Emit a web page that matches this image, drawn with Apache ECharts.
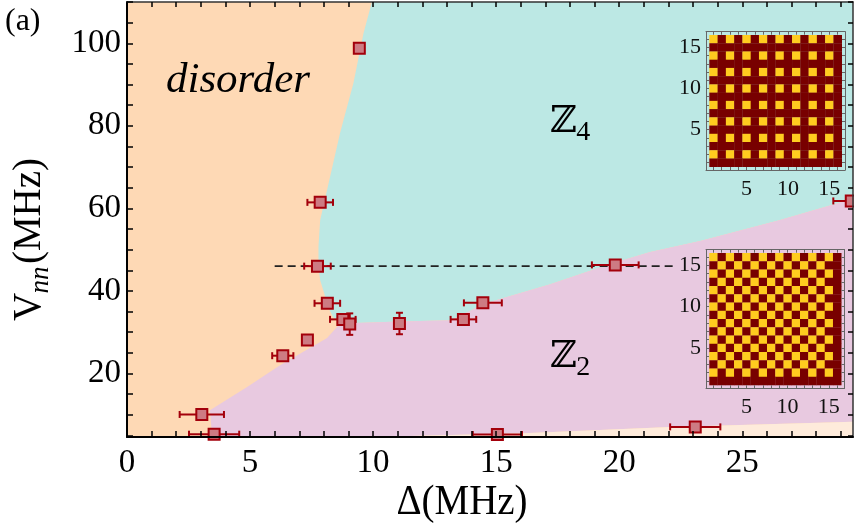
<!DOCTYPE html>
<html><head><meta charset="utf-8">
<script src="https://cdn.jsdelivr.net/npm/echarts@6.0.0/dist/echarts.min.js"></script>
<style>html,body{margin:0;padding:0;background:#fff}#c{width:854px;height:525px}</style>
</head><body><div id="c"></div>
<script>
// ---------- data ----------
const deltaMHz = [9.44, 7.85, 7.74, 8.14, 8.77, 9.05, 7.33, 6.33, 3.04, 3.54, 11.07, 13.67, 14.46, 19.84, 15.05, 23.09, 29.43];
const vnnMHz   = [98.8, 61.45, 46.0, 37.0, 33.1, 31.95, 28.1, 24.3, 10.06, 5.28, 32.1, 33.1, 37.1, 46.3, 5.2, 7.05, 61.8];
const deltaErr = [0, 0.52, 0.54, 0.52, 0.52, 0, 0, 0.43, 0.9, 1.02, 0, 0.52, 0.77, 0.95, 1.0, 1.02, 0.73];
const vnnErr   = [0, 0, 0, 0, 0, 2.6, 0, 0, 0, 0, 2.6, 0, 0, 0, 0, 0, 0];
const cutLine  = [[6.0, 46], [22.2, 46]];

// phase boundaries [Delta, Vnn]
const boundaryDisZ4 = [[9.95,110],[9.61,102.4],[9.20,90.3],[8.66,78.3],[8.25,67.6],[7.85,57.2],[7.78,50.7],[7.78,45.8],[7.85,42.6],[8.01,39.5],[8.17,36.1],[8.37,33.7],[8.66,32.1]];
const boundaryZ4Z2  = [[8.66,32.1],[11.1,32.6],[13.13,32.9],[13.94,35.1],[14.47,36.8],[17.2,41.6],[19.63,46.5],[21.26,49.4],[23.29,52.1],[26.54,57.2],[29.5,62.3]];
const boundaryDisZ2 = [[8.66,32.1],[8.13,28.6],[6.22,22.0],[4.88,16.7],[3.37,11.1],[3.46,4.6]];
const boundaryZ2Low = [[3.46,4.6],[11.1,4.8],[16.1,5.5],[22.07,7.0],[29.5,8.3]];
const plotCorners   = [[0,4.6],[29.5,4.6],[29.5,110],[0,110]];

// tick labels
const xTickLabels = [0, 5, 10, 15, 20, 25];
const yTickLabels = [20, 40, 60, 80, 100];
const insetTickLabels = [5, 10, 15];

// inset patterns (rows top y=16 -> bottom y=1, columns x=1..16; 1 = yellow)
const z4Rows = [
 "1010101010101010","0000000000000000","1010101010101010","0000000000000000",
 "1010101010101010","0000000000000000","1010101010101010","0000000000000000",
 "1010101010101010","0000000000000000","1010101010101010","0000000000000000",
 "1010101010101010","0000000000000000","1010101010101010","0000000000000000"];
const z2Rows = [
 "1010101010101010","0101010101010100","1010101010101010","0101010101010100",
 "1010101010101010","0101010101010100","1010101010101010","0101010101010100",
 "1010101010101010","0101010101010100","1010101010101010","0101010101010100",
 "1010101010101010","0101010101010100","1010101010101010","0000000000000000"];

// ---------- helpers ----------
const xMinorTicks = []; for (let v = 0; v <= 29; v++) xMinorTicks.push(v);
const yMinorTicks = []; for (let v = 5; v <= 110; v += 5) yMinorTicks.push(v);
const insetTicks = []; for (let v = 1; v <= 16; v++) insetTicks.push(v);

const SERIF = '"Liberation Serif", "Times New Roman", serif';
const C_DIS = '#FED9B5', C_Z4 = '#BCE8E4', C_Z2 = '#E8C9E0', C_LOW = '#FEEBDB';
const RED = '#A3000B';

function rowsToCells(rows) {
  const out = [];
  rows.forEach((r, i) => { for (let c = 0; c < r.length; c++) out.push([c + 1, 16 - i, +r[c]]); });
  return out;
}

function polygonSeries(points, color, z) {
  return {
    type: 'custom', xAxisIndex: 0, yAxisIndex: 0, z: z, silent: true, clip: true,
    data: [[points[0][0], points[0][1]]],
    renderItem: (p, api) => ({ type: 'polygon', shape: { points: points.map(pt => api.coord(pt)) }, style: { fill: color } })
  };
}

const z4Poly = boundaryDisZ4.concat(boundaryZ4Z2.slice(1), [[29.5, 110]]);
const z2Poly = boundaryZ4Z2.concat(boundaryZ2Low.slice().reverse(), boundaryDisZ2.slice().reverse().slice(1, -1));
const lowPoly = boundaryZ2Low.concat([[29.5, 4.6]]);

function heatSeries(rows, gi) {
  return {
    type: 'custom', xAxisIndex: gi, yAxisIndex: gi, z: 5, silent: true,
    encode: { x: 0, y: 1 },
    data: rowsToCells(rows),
    renderItem: (p, api) => {
      const x = api.value(0), y = api.value(1), v = api.value(2);
      const a = api.coord([x - 0.5, y + 0.5]), s = api.size([1, 1]);
      return { type: 'rect', shape: { x: a[0], y: a[1], width: s[0] + 0.3, height: s[1] + 0.3 },
               style: { fill: v ? '#FFCC1F' : '#780000' } };
    }
  };
}

function insetX(gi, pos) {
  return { gridIndex: gi, type: 'value', min: 0.1, max: 16.9, position: pos, z: 6,
    axisLine: { onZero: false, lineStyle: { color: '#666', width: 1 } },
    axisTick: { inside: true, length: 3, customValues: insetTicks, lineStyle: { color: '#666' } },
    axisLabel: { show: pos === 'bottom', customValues: insetTickLabels, fontSize: 22, fontFamily: SERIF, color: '#111', margin: 8 },
    splitLine: { show: false } };
}
function insetY(gi, pos) {
  return { gridIndex: gi, type: 'value', min: 0.1, max: 16.9, position: pos, z: 6,
    axisLine: { onZero: false, lineStyle: { color: '#666', width: 1 } },
    axisTick: { inside: true, length: 3, customValues: insetTicks, lineStyle: { color: '#666' } },
    axisLabel: { show: pos === 'left', customValues: insetTickLabels, fontSize: 22, fontFamily: SERIF, color: '#111', margin: 5 },
    splitLine: { show: false } };
}

const chart = echarts.init(document.getElementById('c'), null, { renderer: 'canvas' });
chart.setOption({
  animation: false,
  backgroundColor: '#fff',
  grid: [
    { left: 127, right: 1, top: 2, bottom: 88 },
    { left: 706, top: 31.7, width: 139, height: 138.3 },
    { left: 706, top: 249.7, width: 138.5, height: 138.6 }
  ],
  xAxis: [
    { gridIndex: 0, type: 'value', min: 0, max: 29.5, position: 'bottom', z: 10,
      axisLine: { onZero: false, lineStyle: { color: '#000', width: 2 } },
      axisTick: { inside: true, length: 6, customValues: xMinorTicks, lineStyle: { color: '#000', width: 1.5 } },
      axisLabel: { customValues: xTickLabels, fontSize: 33, fontFamily: SERIF, color: '#000', margin: 10 },
      splitLine: { show: false } },
    { gridIndex: 0, type: 'value', min: 0, max: 29.5, position: 'top', z: 10,
      axisLine: { onZero: false, lineStyle: { color: '#333', width: 1.5 } },
      axisTick: { inside: true, length: 5, customValues: xMinorTicks, lineStyle: { color: '#000', width: 1.5 } },
      axisLabel: { show: false }, splitLine: { show: false } },
    insetX(1, 'bottom'), insetX(1, 'top'), insetX(2, 'bottom'), insetX(2, 'top')
  ],
  yAxis: [
    { gridIndex: 0, type: 'value', min: 4.6, max: 110, position: 'left', z: 10,
      axisLine: { onZero: false, lineStyle: { color: '#000', width: 2 } },
      axisTick: { inside: true, length: 6, customValues: yMinorTicks, lineStyle: { color: '#000', width: 1.5 } },
      axisLabel: { customValues: yTickLabels, fontSize: 33, fontFamily: SERIF, color: '#000', margin: 6 },
      splitLine: { show: false } },
    { gridIndex: 0, type: 'value', min: 4.6, max: 110, position: 'right', z: 10,
      axisLine: { onZero: false, lineStyle: { color: '#333', width: 1.5 } },
      axisTick: { inside: true, length: 5, customValues: yMinorTicks, lineStyle: { color: '#000', width: 1.5 } },
      axisLabel: { show: false }, splitLine: { show: false } },
    insetY(1, 'left'), insetY(1, 'right'), insetY(2, 'left'), insetY(2, 'right')
  ],
  series: [
    polygonSeries(plotCorners, C_DIS, 1),
    polygonSeries(z4Poly, C_Z4, 1),
    polygonSeries(z2Poly, C_Z2, 1),
    polygonSeries(lowPoly, C_LOW, 1),
    { type: 'line', xAxisIndex: 0, yAxisIndex: 0, z: 2, silent: true, symbol: 'none',
      data: cutLine, lineStyle: { color: '#222', width: 1.6, type: [8, 5] } },
    { type: 'custom', xAxisIndex: 0, yAxisIndex: 0, z: 3, silent: true, clip: true,
      encode: { x: 0, y: 1 },
      data: deltaMHz.map((d, i) => [d, vnnMHz[i], deltaErr[i], vnnErr[i]]),
      renderItem: (p, api) => {
        const x = api.value(0), y = api.value(1), dx = api.value(2), dy = api.value(3);
        const st = { stroke: RED, lineWidth: 2 };
        const ch = [];
        if (dx > 0) {
          const a = api.coord([x - dx, y]), b = api.coord([x + dx, y]);
          ch.push({ type: 'line', shape: { x1: a[0], y1: a[1], x2: b[0], y2: b[1] }, style: st });
          ch.push({ type: 'line', shape: { x1: a[0], y1: a[1] - 3.5, x2: a[0], y2: a[1] + 3.5 }, style: st });
          ch.push({ type: 'line', shape: { x1: b[0], y1: b[1] - 3.5, x2: b[0], y2: b[1] + 3.5 }, style: st });
        }
        if (dy > 0) {
          const a = api.coord([x, y - dy]), b = api.coord([x, y + dy]);
          ch.push({ type: 'line', shape: { x1: a[0], y1: a[1], x2: b[0], y2: b[1] }, style: st });
          ch.push({ type: 'line', shape: { x1: a[0] - 3.5, y1: a[1], x2: a[0] + 3.5, y2: a[1] }, style: st });
          ch.push({ type: 'line', shape: { x1: b[0] - 3.5, y1: b[1], x2: b[0] + 3.5, y2: b[1] }, style: st });
        }
        return { type: 'group', children: ch };
      } },
    { type: 'scatter', xAxisIndex: 0, yAxisIndex: 0, z: 4, silent: true, clip: false,
      symbol: 'rect', symbolSize: 11,
      itemStyle: { color: '#CD7B83', borderColor: RED, borderWidth: 2, opacity: 1 },
      data: deltaMHz.map((d, i) => [d, vnnMHz[i]]) },
    heatSeries(z4Rows, 2),
    heatSeries(z2Rows, 4)
  ],
  graphic: [
    { type: 'text', x: 5, y: 22, z: 20, style: { text: '(a)', font: '32px ' + SERIF, fill: '#000', verticalAlign: 'middle' } },
    { type: 'text', x: 238, y: 81, z: 20, style: { text: 'disorder', font: 'italic 43px ' + SERIF, fill: '#000', align: 'center', verticalAlign: 'middle' } },
    { type: 'text', x: 563.5, y: 122.5, z: 20, style: { text: 'ℤ', font: '37px "DejaVu Serif", serif', fill: '#000', align: 'center', verticalAlign: 'middle' } },
    { type: 'text', x: 583.3, y: 132.3, z: 20, style: { text: '4', font: '28px ' + SERIF, fill: '#000', align: 'center', verticalAlign: 'middle' } },
    { type: 'text', x: 563.5, y: 357.5, z: 20, style: { text: 'ℤ', font: '37px "DejaVu Serif", serif', fill: '#000', align: 'center', verticalAlign: 'middle' } },
    { type: 'text', x: 583.3, y: 368, z: 20, style: { text: '2', font: '28px ' + SERIF, fill: '#000', align: 'center', verticalAlign: 'middle' } },
    { type: 'text', x: 462, y: 503, scaleY: 1.1, z: 20, style: { text: 'Δ(MHz)', font: '39px ' + SERIF, fill: '#000', align: 'center', verticalAlign: 'middle' } },
    { type: 'text', x: 29.5, y: 307, rotation: Math.PI / 2, z: 20, style: { text: 'V', font: '39px ' + SERIF, fill: '#000', align: 'center', verticalAlign: 'middle' } },
    { type: 'text', x: 41, y: 280, rotation: Math.PI / 2, z: 20, style: { text: 'nn', font: 'italic 27px ' + SERIF, fill: '#000', align: 'center', verticalAlign: 'middle' } },
    { type: 'text', x: 29.5, y: 211, rotation: Math.PI / 2, z: 20, style: { text: '(MHz)', font: '39px ' + SERIF, fill: '#000', align: 'center', verticalAlign: 'middle' } }
  ]
});
</script>
</body></html>
